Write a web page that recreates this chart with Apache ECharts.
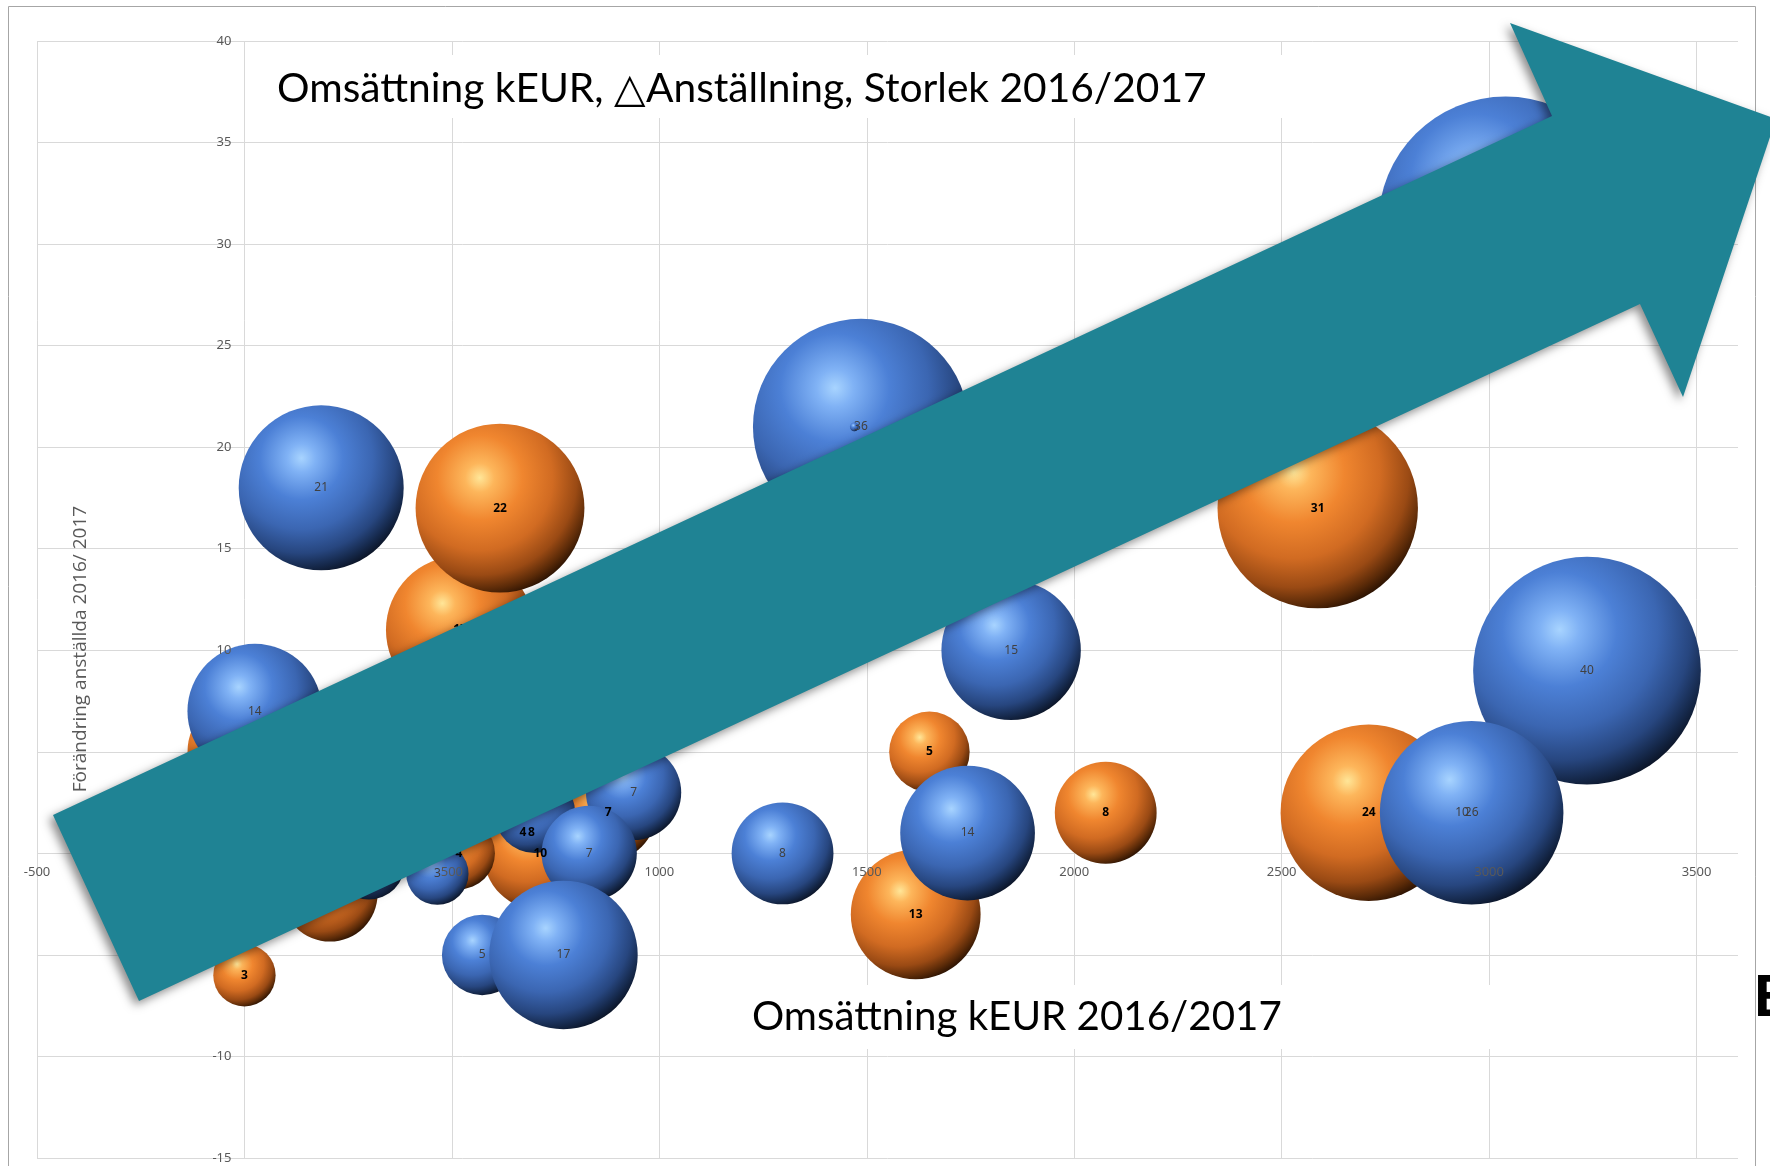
<!DOCTYPE html>
<html>
<head>
<meta charset="utf-8">
<title>Omsättning kEUR, △Anställning, Storlek 2016/2017</title>
<script src="https://cdn.jsdelivr.net/npm/echarts@6/dist/echarts.min.js"></script>
<style>
  html, body { margin: 0; padding: 0; background: #fff; }
  #chart { width: 1770px; height: 1166px; }
</style>
</head>
<body>
<div id="chart"></div>
<script>
// omsättning kEUR (x), förändring anställda (y), storlek (bubbla)
const orangeX    = [671, 692, 713, 517, 877, 206, 0, 0, 520, 616, 2587, 2710, 1651, 1618, 2076];
const orangeY    = [1, 1, 0, 0, 2, -2, 5, -6, 11, 17, 17, 2, 5, -3, 2];
const orangeSize = [4, 8, 10, 4, 7, 7, 10, 3, 17, 22, 31, 24, 5, 13, 8];

const blueX    = [185, 25, 1486, 1470, 1848, 3040, 3236, 2935, 2958, 1743, 1297, 465, 300, 700, 938, 831, 573, 769];
const blueY    = [18, 7, 21, 21, 10, 31, 9, 2, 2, 1, 0, -1, -0.5, 2, 3, 0, -5, -5];
const blueSize = [21, 14, 36, 0.06, 15, 50, 40, 10, 26, 14, 8, 3, 4, 5, 7, 7, 5, 17];

const xMin = -500, xMax = 3600, xStep = 500;
const yMin = -15, yMax = 40, yStep = 5;

const titleText = 'Omsättning kEUR, △Anställning, Storlek 2016/2017';
const xTitle = 'Omsättning kEUR 2016/2017';
const yTitle = 'Förändring anställda 2016/ 2017';

const bubblePx = 36; // diameter for size 1, area ~ size
const gridColor = '#D9D9D9';
const labelFont = 'Noto Sans';

function sphere(stops) {
  return {
    type: 'radial', x: 0.38, y: 0.32, r: 0.72,
    colorStops: stops.map(s => ({ offset: s[0], color: s[1] }))
  };
}
const blueBall = sphere([[0, '#A8D4FF'], [0.12, '#80B2F5'], [0.35, '#4C80D6'],
  [0.6, '#3B66B2'], [0.8, '#27467F'], [0.92, '#15284A'], [1, '#0B1426']]);
const orangeBall = sphere([[0, '#FFE698'], [0.12, '#FDB65B'], [0.35, '#F0862F'],
  [0.6, '#D16B22'], [0.8, '#9A4A14'], [0.92, '#5A2A08'], [1, '#2A1202']]);

function fitSize(text, family, target) {
  const ctx = document.createElement('canvas').getContext('2d');
  ctx.font = '100px ' + family;
  return Math.round(100 * target / ctx.measureText(text).width * 10) / 10;
}
const titleFamily = 'Lato';
const titleSize = fitSize(titleText, titleFamily, 929);
const xTitleSize = fitSize(xTitle, titleFamily, 530);

const labelFmt = p => (p.value[2] >= 1 ? String(p.value[2]) : '');
const tickFmt = v => String(v);

// arrow overlay, pixel outline
const arrowPts = [[53, 815], [1552, 116], [1510, 23], [1776, 119], [1683, 397], [1640, 304], [139, 1001]];

const chart = echarts.init(document.getElementById('chart'), null, { renderer: 'canvas' });

chart.setOption({
  animation: false,
  backgroundColor: '#fff',
  grid: { left: 37, right: 32, top: 41, bottom: 8, containLabel: false, outerBoundsMode: 'none' },
  xAxis: [
    // tick labels, moved onto the zero line below, drawn above the bubbles
    {
      type: 'value', min: xMin, max: xMax, interval: xStep, position: 'bottom', z: 5,
      axisLine: { show: false, onZero: false },
      axisTick: { show: false }, splitLine: { show: false },
      axisLabel: { show: true, showMaxLabel: false, formatter: tickFmt, color: '#595959',
        fontSize: 13, fontFamily: labelFont, margin: 12 }
    },
    // gridlines under the bubbles
    {
      type: 'value', min: xMin, max: xMax, interval: xStep, position: 'bottom', z: 0,
      axisLine: { show: false, onZero: false },
      axisTick: { show: false }, axisLabel: { show: false },
      splitLine: { show: true, showMaxLine: false, lineStyle: { color: gridColor, width: 1 } }
    }
  ],
  yAxis: [
    {
      type: 'value', min: yMin, max: yMax, interval: yStep, position: 'left', z: 5,
      axisLine: { show: false, onZero: false },
      axisTick: { show: false }, splitLine: { show: false },
      axisLabel: { show: true, formatter: tickFmt, color: '#595959', fontSize: 13,
        fontFamily: labelFont, margin: 13 }
    },
    {
      type: 'value', min: yMin, max: yMax, interval: yStep, position: 'left', z: 0,
      axisLine: { show: false, onZero: false },
      axisTick: { show: false }, axisLabel: { show: false },
      splitLine: { show: true, lineStyle: { color: gridColor, width: 1 } }
    }
  ],
  series: [
    {
      type: 'scatter', name: 'Orange', xAxisIndex: 0, yAxisIndex: 0,
      data: orangeX.map((x, i) => [x, orangeY[i], orangeSize[i]]),
      symbolSize: v => Math.sqrt(v[2]) * bubblePx,
      itemStyle: { color: orangeBall, opacity: 1 },
      label: { show: true, position: 'inside', formatter: labelFmt, color: '#000',
        fontSize: 12, fontWeight: 'bold', fontFamily: labelFont },
      emphasis: { disabled: true }
    },
    {
      type: 'scatter', name: 'Blue', xAxisIndex: 0, yAxisIndex: 0,
      data: blueX.map((x, i) => [x, blueY[i], blueSize[i]]),
      symbolSize: v => Math.sqrt(v[2]) * bubblePx,
      itemStyle: { color: blueBall, opacity: 1 },
      label: { show: true, position: 'inside', formatter: labelFmt, color: '#404040',
        fontSize: 12, fontFamily: labelFont },
      emphasis: { disabled: true }
    }
  ],
  graphic: [
    { type: 'rect', z: 1, shape: { x: 8.5, y: 6.5, width: 1747, height: 1200 },
      style: { fill: 'none', stroke: '#A6A6A6', lineWidth: 1 } },
    { type: 'rect', z: 10, shape: { x: 262, y: 55, width: 1040, height: 63 }, style: { fill: '#fff' } },
    { type: 'text', z: 11, x: 277, y: 89,
      style: { text: titleText, fill: '#000', fontSize: titleSize, fontFamily: titleFamily,
        textAlign: 'left', textVerticalAlign: 'middle' } },
    { type: 'rect', z: 10, shape: { x: 736, y: 985, width: 790, height: 64 }, style: { fill: '#fff' } },
    { type: 'text', z: 11, x: 752, y: 1017,
      style: { text: xTitle, fill: '#000', fontSize: xTitleSize, fontFamily: titleFamily,
        textAlign: 'left', textVerticalAlign: 'middle' } },
    { type: 'text', z: 11, x: 81, y: 649, rotation: Math.PI / 2,
      style: { text: yTitle, fill: '#595959', fontSize: 19, fontFamily: 'Open Sans',
        textAlign: 'center', textVerticalAlign: 'middle' } },
    { type: 'text', z: 11, x: 1754, y: 999,
      style: { text: 'E', fill: '#000', fontSize: 60, fontWeight: 'bold', fontFamily: 'Liberation Sans',
        textAlign: 'left', textVerticalAlign: 'middle' } },
    { type: 'polygon', z: 50, shape: { points: arrowPts },
      style: { fill: '#1F8394', shadowBlur: 10, shadowColor: 'rgba(0,0,0,0.45)',
        shadowOffsetX: -4, shadowOffsetY: 4 } }
  ]
});

// axes cross at zero (Excel style): shift the label axes onto the zero lines
const corner = chart.convertToPixel({ gridIndex: 0 }, [xMin, yMin]);
const zero = chart.convertToPixel({ gridIndex: 0 }, [0, 0]);
chart.setOption({
  xAxis: [{ offset: zero[1] - corner[1] }, {}],
  yAxis: [{ offset: corner[0] - zero[0] }, {}]
});
</script>
</body>
</html>
